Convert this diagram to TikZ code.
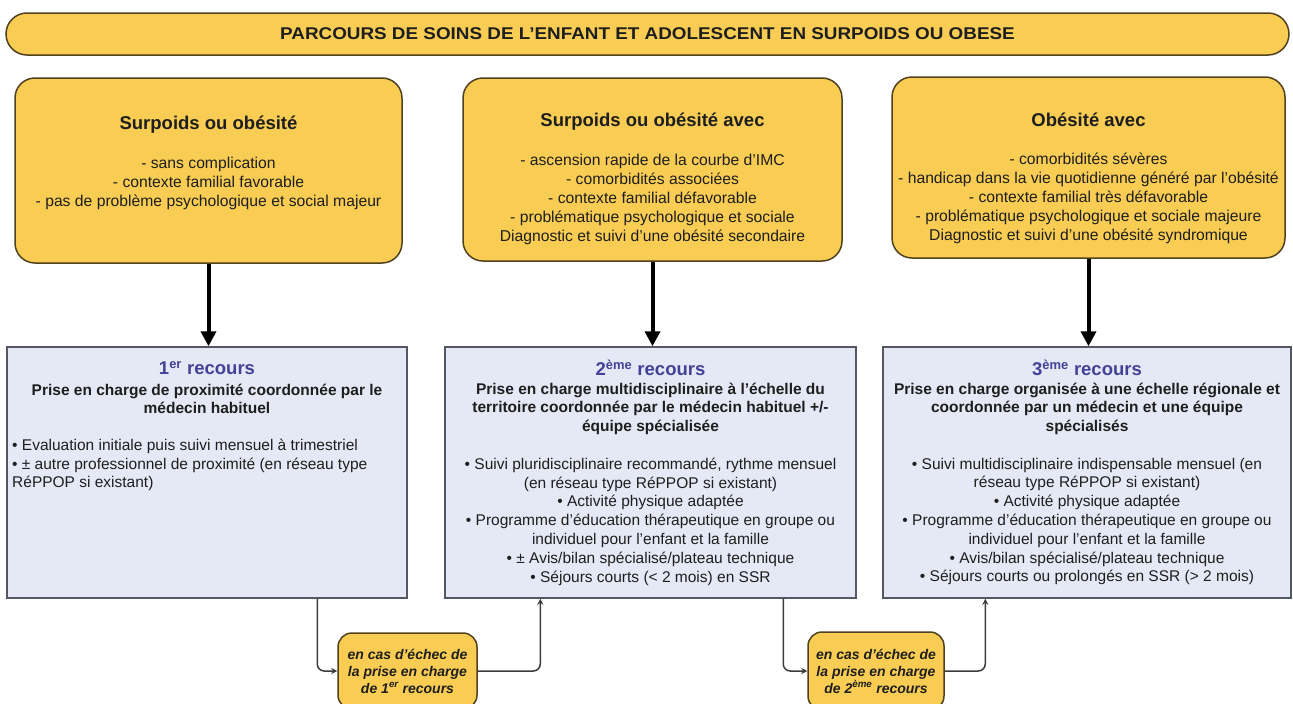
\documentclass[tikz,border=0pt]{standalone}
\usepackage{fontspec}
\setmainfont{Liberation Sans}
\newfontfamily\titlefont[FakeStretch=1.11]{Liberation Sans}
\usetikzlibrary{arrows.meta,calc}
\definecolor{yfill}{RGB}{249,205,84}
\definecolor{yline}{RGB}{80,66,30}
\definecolor{bfill}{RGB}{228,233,245}
\definecolor{bline}{RGB}{85,88,98}
\definecolor{rec}{RGB}{68,66,150}
\definecolor{txt}{RGB}{30,30,30}
\definecolor{conn}{RGB}{60,60,60}
\tikzset{
  ybox/.style={draw=yline, line width=1.5pt, fill=yfill, rounded corners=20pt, inner sep=0pt},
  bbox/.style={draw=bline, line width=1.5pt, fill=bfill, inner sep=0pt},
  sbox/.style={draw=yline, line width=1.5pt, fill=yfill, rounded corners=14pt, inner sep=0pt,
    text=txt, align=center, font=\fontsize{14}{17}\selectfont\bfseries\itshape},
  yhead/.style={text=txt, font=\fontsize{18.5}{22}\selectfont\bfseries, inner sep=0pt},
  ybody/.style={text=txt, align=center, font=\fontsize{15.7}{19}\selectfont, inner sep=0pt},
  rhead/.style={text=rec, font=\fontsize{18.5}{22}\selectfont\bfseries, inner sep=0pt},
  rsub/.style={text=txt, align=center, font=\fontsize{15.5}{18.5}\selectfont\bfseries, inner sep=0pt},
  rbody/.style={text=txt, font=\fontsize{15.5}{18.8}\selectfont, inner sep=0pt},
  bigarrow/.style={line width=4pt, -{Triangle[width=15pt,length=15pt]}, black},
  smallarrow/.style={line width=1.5pt, conn, rounded corners=7pt, -{Stealth[width=6pt,length=6pt]}},
}
\begin{document}
\begin{tikzpicture}[x=1pt,y=-1pt]
\useasboundingbox (0,0) rectangle (1293,704);
\fill[white] (0,0) rectangle (1293,704);
\clip (0,0) rectangle (1293,704);

% title banner
\node[draw=yline, line width=1.5pt, fill=yfill, rounded corners=21pt, minimum width=1283pt, minimum height=42pt, inner sep=0pt,
  text=txt, font=\titlefont\fontsize{17}{20}\selectfont\bfseries] (title) at (647.5,34)
  {PARCOURS DE SOINS DE L’ENFANT ET ADOLESCENT EN SURPOIDS OU OBESE};

% yellow boxes
\node[ybox, minimum width=387pt, minimum height=185pt] (y1) at (208.5,170.5) {};
\node[ybox, minimum width=379pt, minimum height=183pt] (y2) at (652.5,169.5) {};
\node[ybox, minimum width=393pt, minimum height=181pt] (y3) at (1088.5,167.5) {};

\node[yhead] (y1h) at (208.5,125) {Surpoids ou obésité};
\node[ybody] (y1b) at (208.5,183) {- sans complication\\- contexte familial favorable\\- pas de problème psychologique et social majeur};

\node[yhead] (y2h) at (652.5,122) {Surpoids ou obésité avec};
\node[ybody] (y2b) at (652.5,199) {- ascension rapide de la courbe d’IMC\\- comorbidités associées\\- contexte familial défavorable\\- problématique psychologique et sociale\\Diagnostic et suivi d’une obésité secondaire};

\node[yhead] (y3h) at (1088.5,120) {Obésité avec};
\node[ybody] (y3b) at (1088.5,198) {- comorbidités sévères\\- handicap dans la vie quotidienne généré par l’obésité\\- contexte familial très défavorable\\- problématique psychologique et sociale majeure\\Diagnostic et suivi d’une obésité syndromique};

% blue boxes
\node[bbox, minimum width=400pt, minimum height=251pt] (b1) at (207,472.5) {};
\node[bbox, minimum width=411pt, minimum height=251pt] (b2) at (650.5,472.5) {};
\node[bbox, minimum width=408pt, minimum height=251pt] (b3) at (1087,472.5) {};

\node[rhead] (b1h) at (207,368) {1\textsuperscript{er} recours};
\node[rsub] (b1s) at (207,399) {Prise en charge de proximité coordonnée par le\\médecin habituel};
\node[rbody, align=left, anchor=west] (b1b) at (12,465) {• Evaluation initiale puis suivi mensuel à trimestriel\\• ± autre professionnel de proximité (en réseau type\\RéPPOP si existant)};

\node[rhead] (b2h) at (650.5,368) {2\textsuperscript{ème} recours};
\node[rsub] (b2s) at (650.5,408.5) {Prise en charge multidisciplinaire à l’échelle du\\territoire coordonnée par le médecin habituel +/-\\équipe spécialisée};
\node[rbody, align=center] (b2b) at (650.5,521.5) {• Suivi pluridisciplinaire recommandé, rythme mensuel\\(en réseau type RéPPOP si existant)\\• Activité physique adaptée\\• Programme d’éducation thérapeutique en groupe ou\\individuel pour l’enfant et la famille\\• ± Avis/bilan spécialisé/plateau technique\\• Séjours courts (< 2 mois) en SSR};

\node[rhead] (b3h) at (1087,368) {3\textsuperscript{ème} recours};
\node[rsub] (b3s) at (1087,408.5) {Prise en charge organisée à une échelle régionale et\\coordonnée par un médecin et une équipe\\spécialisés};
\node[rbody, align=center] (b3b) at (1087,521.5) {• Suivi multidisciplinaire indispensable mensuel (en\\réseau type RéPPOP si existant)\\• Activité physique adaptée\\• Programme d’éducation thérapeutique en groupe ou\\individuel pour l’enfant et la famille\\• Avis/bilan spécialisé/plateau technique\\• Séjours courts ou prolongés en SSR (> 2 mois)};

% small boxes
\node[sbox, minimum width=139pt, minimum height=76pt] (s1) at (407.5,671) {en cas d’échec de\\la prise en charge\\de 1\textsuperscript{er} recours};
\node[sbox, minimum width=136pt, minimum height=78pt] (s2) at (876,671) {en cas d’échec de\\la prise en charge\\de 2\textsuperscript{ème} recours};

% big arrows
\draw[bigarrow] (y1.south) -- (y1.south |- b1.north);
\draw[bigarrow] (y2.south) -- (y2.south |- b2.north);
\draw[bigarrow] (y3.south) -- (y3.south |- b3.north);

% small connectors
\draw[smallarrow] ($(b1.south west)+(311,0)$) |- (s1.west);
\draw[smallarrow] (s1.east) -| ($(b2.south west)+(96,0)$);
\draw[smallarrow] ($(b2.south west)+(339,0)$) |- (s2.west);
\draw[smallarrow] (s2.east) -| ($(b3.south west)+(103,0)$);
\end{tikzpicture}
\end{document}
